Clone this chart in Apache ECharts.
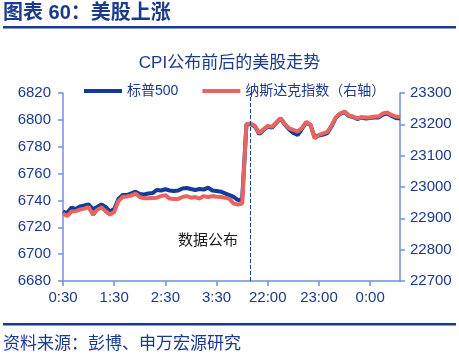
<!DOCTYPE html>
<html>
<head>
<meta charset="utf-8">
<script src="https://cdn.jsdelivr.net/npm/echarts@6/dist/echarts.min.js"></script>
<style>
html,body{margin:0;padding:0;background:#fff;}
#main{width:459px;height:362px;}
</style>
</head>
<body>
<div id="main"></div>
<script>
const categories = ['0:30','0:35','0:40','0:45','0:50','0:55','1:00','1:05','1:10','1:15','1:20','1:25',
'1:30','1:35','1:40','1:45','1:50','1:55','2:00','2:05','2:10','2:15','2:20','2:25',
'2:30','2:35','2:40','2:45','2:50','2:55','3:00','3:05','3:10','3:15','3:20','3:25',
'3:30','3:35','3:40','3:45','3:50','3:55','4:00','21:35','21:40','21:45','21:50','21:55',
'22:00','22:05','22:10','22:15','22:20','22:25','22:30','22:35','22:40','22:45','22:50','22:55',
'23:00','23:05','23:10','23:15','23:20','23:25','23:30','23:35','23:40','23:45','23:50','23:55',
'0:00','0:05','0:10','0:15','0:20','0:25','0:30','0:35'];

const spx = [6731.6,6730.6,6734.7,6733.6,6735.5,6736.2,6737.0,6733.6,6735.1,6737.0,
6735.1,6731.8,6733.6,6741.1,6744.0,6744.0,6745.2,6746.5,6744.8,6744.4,
6745.2,6745.5,6747.8,6747.4,6748.3,6747.4,6747.0,6747.4,6748.9,6749.3,
6748.5,6747.8,6748.5,6748.1,6749.5,6747.4,6747.0,6746.5,6745.3,6744.0,
6742.6,6740.3,6740.7,6796.5,6796.9,6795.1,6789.5,6792.4,6795.1,6794.3,
6797.7,6801.0,6796.5,6792.8,6790.2,6788.7,6793.2,6798.0,6796.2,6787.2,
6788.4,6789.1,6790.2,6795.4,6801.8,6804.4,6805.9,6802.9,6802.1,6800.6,
6801.8,6801.0,6801.4,6801.8,6801.8,6804.0,6804.7,6802.9,6801.4,6801.0];

const ndx = [22916,22907,22922,22923,22928,22931,22936,22911,22927,22935,
22923,22912,22920,22955,22968,22970,22973,22979,22968,22964,
22964,22965,22966,22971,22974,22963,22962,22962,22968,22971,
22966,22968,22963,22971,22968,22971,22969,22968,22966,22962,
22947,22944,22947,23201,23203,23195,23172,23184,23195,23192,
23206,23220,23201,23187,23182,23177,23188,23208,23199,23155,
23166,23171,23176,23198,23223,23235,23241,23228,23225,23219,
23223,23222,23222,23225,23225,23235,23238,23230,23225,23223];

const seriesNames = ['标普500', '纳斯达克指数（右轴）'];
const releaseIndex = 44;
const releaseLabel = '数据公布';
const headerText = '图表 60：美股上涨';
const chartTitle = 'CPI公布前后的美股走势';
const sourceText = '资料来源：彭博、申万宏源研究';

const FONT = "Arial, 'Liberation Sans', 'Noto Sans CJK SC', sans-serif";
const TXT = '#1b3a8c';
const AXIS = '#6f90db';
const BLUE = '#123c98';
const RED = '#e8645e';

const chart = echarts.init(document.getElementById('main'), null, {renderer: 'canvas'});
chart.setOption({
  backgroundColor: '#ffffff',
  animation: false,
  textStyle: {fontFamily: FONT},
  title: {
    text: chartTitle, left: 'center', top: 50,
    textStyle: {fontSize: 17, fontWeight: 'normal', color: TXT, fontFamily: FONT}
  },
  legend: {
    left: 79, top: 79, itemWidth: 38, itemHeight: 4, itemGap: 24, icon: 'rect',
    textStyle: {fontSize: 14, color: TXT, fontFamily: FONT},
    data: seriesNames
  },
  graphic: [
    {type: 'text', left: 3, top: 3, style: {text: headerText, fill: TXT, font: 'bold 20px ' + FONT}},
    {type: 'rect', left: 3, top: 26, shape: {width: 453, height: 2.5}, style: {fill: '#163a8e'}},
    {type: 'rect', left: 3, top: 323, shape: {width: 453, height: 2.5}, style: {fill: '#163a8e'}},
    {type: 'text', left: 3, top: 336, style: {text: sourceText, fill: TXT, font: '17px ' + FONT}},
    {type: 'text', left: 178, top: 233, style: {text: releaseLabel, fill: '#1a1a1a', font: '15px ' + FONT}}
  ],
  grid: {left: 63, right: 59, top: 93, bottom: 81, containLabel: false},
  xAxis: {
    type: 'category', data: categories, boundaryGap: false,
    axisLine: {lineStyle: {color: AXIS, width: 1.5}},
    axisTick: {interval: 11, length: 5, lineStyle: {color: AXIS, width: 1.5}},
    axisLabel: {interval: 11, color: TXT, fontSize: 15, margin: 9, fontFamily: FONT},
    splitLine: {show: false}
  },
  yAxis: [
    {
      type: 'value', min: 6680, max: 6820, interval: 20,
      axisLine: {show: true, lineStyle: {color: AXIS, width: 1.5}},
      axisTick: {show: true, length: 5, lineStyle: {color: AXIS, width: 1.5}},
      axisLabel: {color: TXT, fontSize: 15, margin: 12, fontFamily: FONT, formatter: v => String(v)},
      splitLine: {show: false}
    },
    {
      type: 'value', min: 22700, max: 23300, interval: 100, position: 'right',
      axisLine: {show: true, lineStyle: {color: AXIS, width: 1.5}},
      axisTick: {show: true, length: 5, lineStyle: {color: AXIS, width: 1.5}},
      axisLabel: {color: TXT, fontSize: 15, margin: 10, fontFamily: FONT, formatter: v => String(v)},
      splitLine: {show: false}
    }
  ],
  series: [
    {
      name: seriesNames[0], type: 'line', yAxisIndex: 0, data: spx,
      symbol: 'none', smooth: false, color: BLUE,
      lineStyle: {width: 4, color: BLUE},
      markLine: {
        silent: true, symbol: 'none', label: {show: false},
        lineStyle: {type: 'dashed', color: '#1a3c9a', width: 1},
        data: [{xAxis: releaseIndex}]
      }
    },
    {
      name: seriesNames[1], type: 'line', yAxisIndex: 1, data: ndx,
      symbol: 'none', smooth: false, color: RED,
      lineStyle: {width: 4, color: RED}
    }
  ]
});
</script>
</body>
</html>
